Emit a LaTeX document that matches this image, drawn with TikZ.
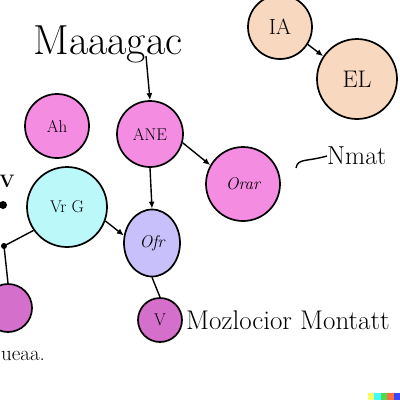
\documentclass[tikz,border=0pt]{standalone}
\usepackage{fontspec}
\usetikzlibrary{arrows.meta,shapes.geometric}
\definecolor{pinkc}{RGB}{244,140,226}
\definecolor{peach}{RGB}{248,216,190}
\definecolor{cyanc}{RGB}{186,248,250}
\definecolor{lav}{RGB}{200,192,250}
\definecolor{orchid}{RGB}{212,112,204}
\definecolor{wy}{RGB}{255,255,102}
\definecolor{wc}{RGB}{66,255,255}
\definecolor{wg}{RGB}{81,218,76}
\definecolor{wo}{RGB}{255,110,60}
\definecolor{wb}{RGB}{60,70,255}
\tikzset{
  bubble/.style={circle, draw=black, line width=1.7pt, inner sep=0pt, font=\fontsize{17}{17}\selectfont},
  oval/.style={ellipse, draw=black, line width=1.7pt, inner sep=0pt, font=\fontsize{17}{17}\selectfont},
  conn/.style={line width=1.4pt, -{Latex[length=7pt,width=6pt]}},
  plain/.style={line width=1.4pt},
  hand/.style={inner sep=0pt, text=black}
}
\begin{document}
\begin{tikzpicture}[x=1pt,y=-1pt]
\useasboundingbox (0,0) rectangle (400,400);
\clip (0,0) rectangle (400,400);
\fill[white] (0,0) rectangle (400,400);
% title
\node[hand, font=\fontsize{42}{42}\selectfont] (title) at (108,44) {Maaagac};
\coordinate (t0) at (146,56);
% circles
\node[bubble, fill=pinkc, minimum size=64pt] (ah) at (57,126) {Ah};
\node[bubble, fill=pinkc, minimum size=66pt] (ane) at (150,134) {ANE};
\node[bubble, fill=peach, minimum size=64pt] (ia) at (280,27) {\fontsize{22}{22}\selectfont IA};
\node[bubble, fill=peach, minimum size=80pt] (el) at (357,79) {\fontsize{24}{24}\selectfont EL};
\node[bubble, fill=pinkc, minimum size=74pt] (orar) at (243,184) {\itshape Orar};
\node[bubble, fill=cyanc, minimum size=80pt] (vr) at (67,207) {Vr G};
\node[oval, fill=lav, minimum width=56pt, minimum height=67pt] (lv) at (152,243) {\itshape Ofr};
\node[bubble, fill=orchid, minimum size=44pt] (v) at (160,320) {V};
\node[bubble, fill=orchid, minimum size=48pt] (lp) at (8,308) {};
% texts
\node[hand, anchor=west, font=\fontsize{26}{26}\selectfont] (nm) at (327,156) {Nmat};
\node[hand, anchor=west, font=\fontsize{27}{27}\selectfont] (moz) at (186,320) {Mozlocior Montatt};
\node[hand, anchor=west, font=\fontsize{21}{21}\selectfont] (ue) at (1,356) {ueaa.};
\node[hand, font=\fontsize{18}{18}\selectfont\bfseries] (lv2) at (7,181) {V};
% left marks
\coordinate (hub) at (4,246);
\coordinate (blob) at (3,205);
\fill[black] (blob) circle (4pt);
\fill[black] (hub) circle (3pt);
% connectors
\draw[conn] (t0) -- (ane.north);
\draw[conn] (ane.-15) -- (orar.150);
\draw[conn] (ane.south) -- (lv.north);
\draw[conn] (vr.-20) -- (lv.165);
\draw[plain] (lv.south) -- (v.north);
\draw[conn] (ia.-32) -- (el.146);
\draw[plain] (vr.215) -- (hub);
\draw[plain] (hub) -- (lp.north);
\coordinate (sq0) at (296,168);
\draw[plain] (sq0) .. controls (298,158) and (306,162) .. (nm.west);
% watermark
\fill[wy] (368,393) rectangle (374.4,400);
\fill[wc] (374.4,393) rectangle (380.8,400);
\fill[wg] (380.8,393) rectangle (387.2,400);
\fill[wo] (387.2,393) rectangle (393.6,400);
\fill[wb] (393.6,393) rectangle (400,400);
\end{tikzpicture}
\end{document}
